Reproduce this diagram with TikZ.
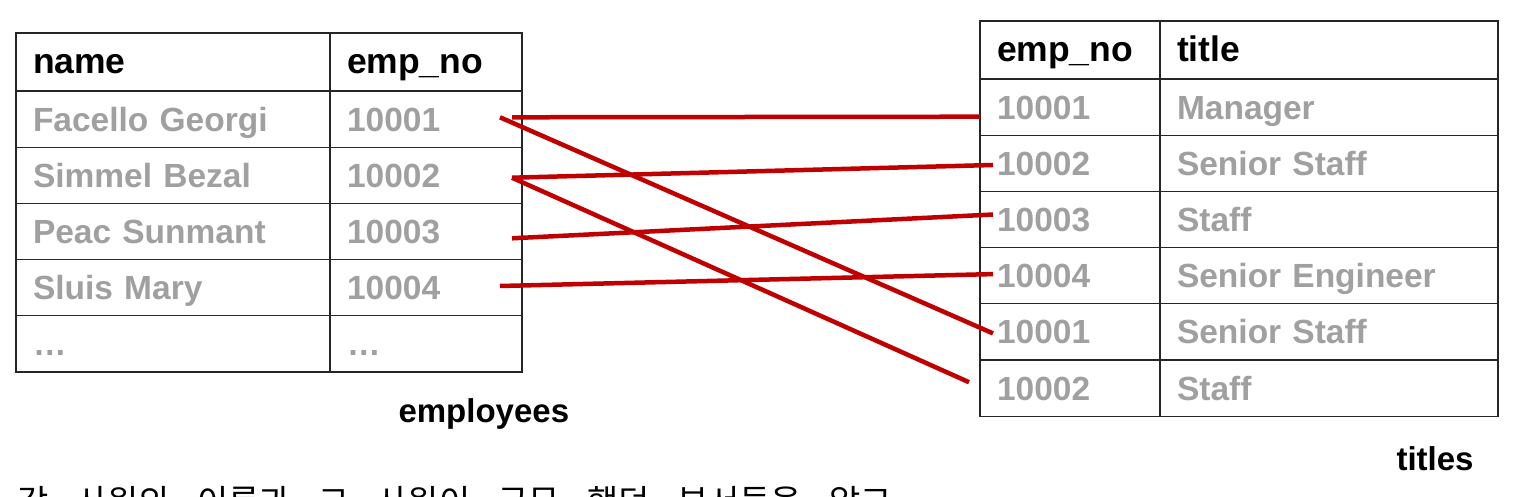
\documentclass[tikz,border=0pt]{standalone}
\usepackage{fontspec}
\setmainfont{Liberation Sans}
\newfontfamily\krfont{Noto Sans CJK KR}
\usepackage{tikz}
\usetikzlibrary{positioning}
\usepackage{xcolor}
\definecolor{cellgray}{HTML}{A0A0A0}
\definecolor{rulegray}{HTML}{262626}
\definecolor{linkred}{HTML}{C00000}

\begin{document}
\begin{tikzpicture}[x=1pt,y=-1pt,
	cell/.style={draw=rulegray,line width=1.3pt,outer sep=0pt,inner xsep=17pt,
		minimum height=56.2pt,text height=24pt,text depth=0pt,align=left,
		anchor=north west,text=cellgray,font=\fontsize{33.5}{36}\selectfont\bfseries},
	head/.style={cell,minimum height=58pt,text=black,font=\fontsize{35.5}{38}\selectfont\bfseries},
	link/.style={draw=linkred,line width=4.5pt},
	caption/.style={anchor=base west,font=\fontsize{33}{36}\selectfont\bfseries}]

	\useasboundingbox (0,0) rectangle (1524,497);
	\clip (0,0) rectangle (1524,497);

	% employees
	\node[head,text width=280pt] (ename) at (16,33) {name};
	\node[head,text width=158pt,right=0pt of ename] (eno) {emp\_no};
	\node[cell,text width=280pt,below=0pt of ename] (en1) {Facello Georgi};
	\node[cell,text width=158pt,right=0pt of en1] (ei1) {10001};
	\node[cell,text width=280pt,below=0pt of en1] (en2) {Simmel Bezal};
	\node[cell,text width=158pt,right=0pt of en2] (ei2) {10002};
	\node[cell,text width=280pt,below=0pt of en2] (en3) {Peac Sunmant};
	\node[cell,text width=158pt,right=0pt of en3] (ei3) {10003};
	\node[cell,text width=280pt,below=0pt of en3] (en4) {Sluis Mary};
	\node[cell,text width=158pt,right=0pt of en4] (ei4) {10004};
	\node[cell,text width=280pt,below=0pt of en4] (en5) {…};
	\node[cell,text width=158pt,right=0pt of en5] (ei5) {…};
	\node[caption] (ecap) at (395,422) {employees};

	% titles
	\node[head,text width=146pt] (tno) at (980,21) {emp\_no};
	\node[head,text width=304pt,right=0pt of tno] (ttitle) {title};
	\node[cell,text width=146pt,below=0pt of tno] (ti1) {10001};
	\node[cell,text width=304pt,right=0pt of ti1] (tt1) {Manager};
	\node[cell,text width=146pt,below=0pt of ti1] (ti2) {10002};
	\node[cell,text width=304pt,right=0pt of ti2] (tt2) {Senior Staff};
	\node[cell,text width=146pt,below=0pt of ti2] (ti3) {10003};
	\node[cell,text width=304pt,right=0pt of ti3] (tt3) {Staff};
	\node[cell,text width=146pt,below=0pt of ti3] (ti4) {10004};
	\node[cell,text width=304pt,right=0pt of ti4] (tt4) {Senior Engineer};
	\node[cell,text width=146pt,below=0pt of ti4] (ti5) {10001};
	\node[cell,text width=304pt,right=0pt of ti5] (tt5) {Senior Staff};
	\node[cell,text width=146pt,below=0pt of ti5] (ti6) {10002};
	\node[cell,text width=304pt,right=0pt of ti6] (tt6) {Staff};
	\node[caption] (tcap) at (1393,470) {titles};

	% joins on emp_no
	\draw[link] ([xshift=-10pt,yshift=1.8pt]ei1.east) -- ([yshift=-9.6pt]ti1.west);
	\draw[link] ([xshift=-22pt,yshift=1.8pt]ei1.east) -- ([xshift=13pt,yshift=-1.5pt]ti5.west);
	\draw[link] ([xshift=-10pt,yshift=-2.4pt]ei2.east) -- ([xshift=13pt,yshift=-1.7pt]ti2.west);
	\draw[link] ([xshift=-10pt,yshift=-2.4pt]ei2.east) -- ([xshift=-11pt,yshift=5.9pt]ti6.west);
	\draw[link] ([xshift=-10pt,yshift=-6.8pt]ei3.east) -- ([xshift=13pt,yshift=5pt]ti3.west);
	\draw[link] ([xshift=-22pt,yshift=1.7pt]ei4.east) -- ([xshift=13pt,yshift=1.6pt]ti4.west);

	\node[anchor=base west,font=\krfont\fontsize{34}{38}\selectfont] (note) at (14,514)
		{\spaceskip=0.8em\relax 각 사원의 이름과 그 사원이 근무 했던 부서들을 알고};

\end{tikzpicture}
\end{document}
